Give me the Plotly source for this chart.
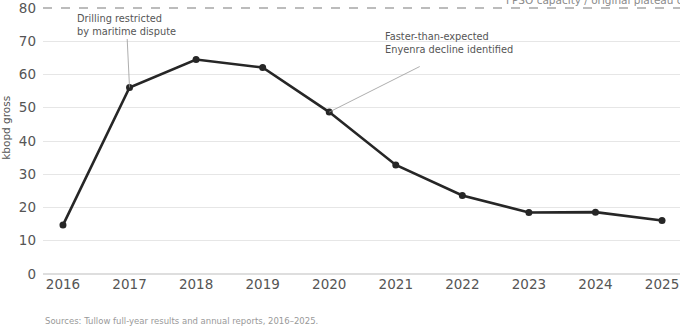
import plotly.graph_objects as go

years = [2016, 2017, 2018, 2019, 2020, 2021, 2022, 2023, 2024, 2025]
kbopd = [14.7, 56.1, 64.5, 62.1, 48.7, 32.8, 23.6, 18.5, 18.6, 16.1]
y_ticks = [0, 10, 20, 30, 40, 50, 60, 70, 80]
fpso_capacity = 80

FONT = "DejaVu Sans"

fig = go.Figure()
fig.add_trace(go.Scatter(
    x=years, y=kbopd, mode="lines+markers",
    line=dict(color="#262626", width=2.6),
    marker=dict(color="#262626", size=7),
    hoverinfo="skip", showlegend=False, cliponaxis=False,
))

# FPSO capacity reference line (y=80 is the top of the axis range)
fig.add_shape(type="line", xref="paper", x0=0, x1=1, yref="paper", y0=1, y1=1,
              line=dict(color="#7a7a7a", width=1.2, dash="dash"))
fig.add_annotation(xref="paper", x=0.723, yref="y", y=fpso_capacity, yanchor="bottom", xanchor="left",
                   text="FPSO capacity / original plateau constraint", showarrow=False,
                   font=dict(family=FONT, size=10.5, color="#8a8a8a"), yshift=0)

# Annotation 1: 2017
fig.add_annotation(x=years[1], y=kbopd[1], text="Drilling restricted<br>by maritime dispute",
                   showarrow=True, arrowhead=0, arrowwidth=0.8, arrowcolor="#999999",
                   ax=-3, ay=-62, align="left", standoff=0,
                   font=dict(family=FONT, size=9.8, color="#555555"))

# Annotation 2: 2020
fig.add_shape(type="line", xref="x", yref="y", x0=years[4], y0=kbopd[4], x1=2021.36, y1=62.4,
              line=dict(color="#999999", width=0.8))
fig.add_annotation(x=2020.81, y=65.2, xref="x", yref="y", xanchor="left", yanchor="bottom",
                   text="Faster-than-expected<br>Enyenra decline identified", showarrow=False,
                   align="left", font=dict(family=FONT, size=9.8, color="#555555"))

# Y-axis title
fig.add_annotation(xref="paper", x=-0.058, xanchor="center", yref="paper", y=0.55, yanchor="middle",
                   text="kbopd gross", textangle=-90,
                   showarrow=False, font=dict(family=FONT, size=10.5, color="#555555"))

# Sources
fig.add_annotation(xref="paper", x=0, yref="paper", y=-0.175, yanchor="middle", xanchor="left",
                   text="Sources: Tullow full-year results and annual reports, 2016\u20132025.",
                   showarrow=False, font=dict(family=FONT, size=8.5, color="#999999"))

fig.update_layout(
    width=680, height=328,
    margin=dict(l=43, r=0, t=6, b=54),
    plot_bgcolor="white", paper_bgcolor="white",
    font=dict(family=FONT, color="#555555"),
    xaxis=dict(range=[2015.7, 2025.27], tickvals=years, showgrid=False, zeroline=False,
               showline=False, ticks="", tickfont=dict(size=13.5, color="#555555")),
    yaxis=dict(range=[0, 80], tickvals=y_ticks, showgrid=True, gridcolor="#e6e6e6", gridwidth=1,
               zeroline=True, zerolinecolor="#dedede", zerolinewidth=2, showline=False, ticks="",
               ticklabelstandoff=6, ticklabeloverflow="allow",
               tickfont=dict(size=13.5, color="#555555")),
)

fig.write_html("out.html")
